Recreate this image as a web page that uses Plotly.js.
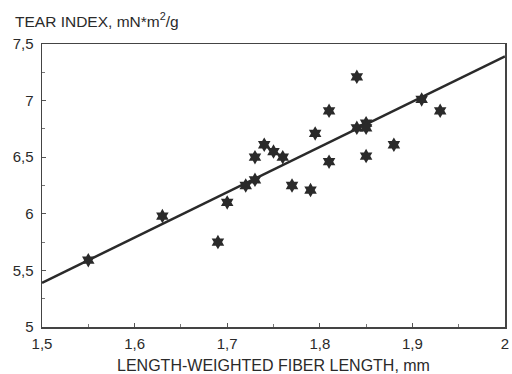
<!DOCTYPE html>
<html><head><meta charset="utf-8">
<script src="https://cdn.plot.ly/plotly-3.0.1.min.js"></script>
<style>html,body{margin:0;padding:0;background:#fff}#chart{width:512px;height:374px}</style>
</head><body><div id="chart"></div>
<script>
const fiberLength = [1.55,1.63,1.69,1.70,1.72,1.73,1.73,1.74,1.75,1.76,1.77,1.79,1.795,1.81,1.81,1.84,1.84,1.85,1.85,1.85,1.88,1.91,1.93];
const tearIndex   = [5.59,5.98,5.75,6.10,6.25,6.30,6.50,6.61,6.55,6.50,6.25,6.21,6.71,6.91,6.46,7.21,6.76,6.80,6.76,6.51,6.61,7.01,6.91];
const fitX = [1.5, 2.0];
const fitY = [5.39, 7.39];
const xTicks = [1.5,1.6,1.7,1.8,1.9,2];
const xTickText = ['1,5','1,6','1,7','1,8','1,9','2'];
const yTicks = [5,5.5,6,6.5,7,7.5];
const yTickText = ['5','5,5','6','6,5','7','7,5'];

const font = {family:'Liberation Sans, Arial, sans-serif', size:15, color:'#2a2a2a'};
const titleFont = {family:'Liberation Sans, Arial, sans-serif', size:16, color:'#2a2a2a'};
const traces = [
  {x:fitX, y:fitY, mode:'lines', line:{color:'#2a2a2a', width:2.5}, hoverinfo:'skip'},
  {x:fiberLength, y:tearIndex, mode:'markers', marker:{symbol:'hexagram', size:11, color:'#2a2a2a', line:{width:0}}}
];
const axisCommon = {showgrid:false, zeroline:false, showline:true, linecolor:'#444', linewidth:1.5, mirror:true,
  ticks:'inside', ticklen:4, tickcolor:'#555', tickfont:font};
const layout = {
  width:512, height:374, showlegend:false, separators:',.',
  paper_bgcolor:'#fff', plot_bgcolor:'#fff',
  margin:{l:42, r:7, t:44, b:47},
  font:font,
  xaxis:Object.assign({}, axisCommon, {range:[1.5,2], tickvals:xTicks, ticktext:xTickText, ticklabelstandoff:2,
    minor:{ticks:'inside', dtick:0.05, ticklen:3, tickcolor:'#777'},
    title:{text:'LENGTH-WEIGHTED FIBER LENGTH, mm', font:titleFont, standoff:9}}),
  yaxis:Object.assign({}, axisCommon, {range:[5,7.5], tickvals:yTicks, ticktext:yTickText, ticklabelstandoff:4,
    minor:{ticks:'inside', dtick:0.25, ticklen:3, tickcolor:'#777'}}),
  annotations:[{text:'TEAR INDEX, mN*m<sup>2</sup>/g', xref:'paper', yref:'paper', x:-0.063, y:1.0, yshift:12,
    xanchor:'left', yanchor:'bottom', showarrow:false, font:{family:font.family, size:15.5, color:font.color}}]
};
Plotly.newPlot('chart', traces, layout, {displayModeBar:false, staticPlot:true});
</script></body></html>
